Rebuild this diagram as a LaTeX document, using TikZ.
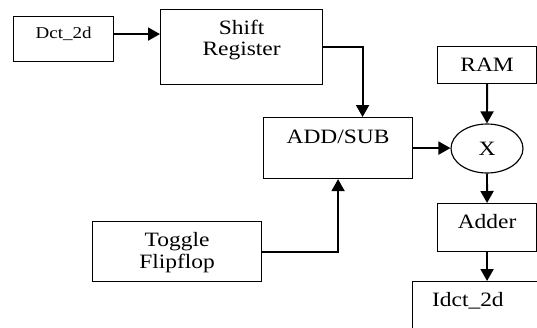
\documentclass[tikz,border=0pt]{standalone}
\usepackage{fontspec}
\setmainfont{Liberation Serif}[FakeStretch=1.15]
\usetikzlibrary{arrows.meta,shapes.geometric}
\begin{document}
\begin{tikzpicture}[
    block/.style={draw, line width=0.65pt, anchor=north west, inner sep=0pt, align=center, font=\fontsize{11.6}{12.4}\selectfont},
    arr/.style={line width=1.1pt, -{Triangle[length=0.24cm,width=0.26cm]}}]
    \useasboundingbox (0,0) rectangle (10.74,6.54);
    \node[block, text width=2cm, text height=0.44cm, text depth=0.46cm, font=\fontsize{9.4}{10}\selectfont] (dct) at (0.26,6.22) {Dct\_2d};
    \node[block, text width=3.24cm, text height=0.49cm, text depth=1.01cm] (shift) at (3.2,6.36) {Shift\\Register};
    \node[block, text width=2.98cm, text height=0.51cm, text depth=0.71cm] (addsub) at (5.26,4.2) {ADD/SUB};
    \node[block, text width=3.38cm, text height=0.5cm, text depth=0.7cm] (toggle) at (1.84,2.12) {Toggle\\Flipflop};
    \node[block, text width=1.98cm, text height=0.5cm, text depth=0.24cm] (ram) at (8.74,5.62) {RAM};
    \node[draw, line width=0.65pt, ellipse, minimum width=1.44cm, minimum height=0.98cm, inner sep=0pt, font=\fontsize{11.6}{12.4}\selectfont] (mult) at (9.74,3.57) {X};
    \node[block, text width=1.98cm, text height=0.5cm, text depth=0.46cm] (adder) at (8.74,2.48) {Adder};
    \node[block, text width=1.94cm, inner xsep=0.39cm, text height=0.5cm, text depth=0.78cm, align=left] (idct) at (8.24,0.92) {Idct\_2d};
    \draw[arr] ([yshift=0.1cm]dct.east) -- ([yshift=0.1cm]dct.east -| shift.west);
    \draw[arr] (shift.east) -| ([xshift=0.49cm]addsub.north);
    \draw[arr] (toggle.east) -| (addsub.south);
    \draw[arr] (addsub.east) -- (addsub.east -| mult.west);
    \draw[arr] (ram.south) -- (mult.north);
    \draw[arr] (mult.south) -- (adder.north);
    \draw[arr] (adder.south) -- (adder.south |- idct.north);
\end{tikzpicture}
\end{document}
